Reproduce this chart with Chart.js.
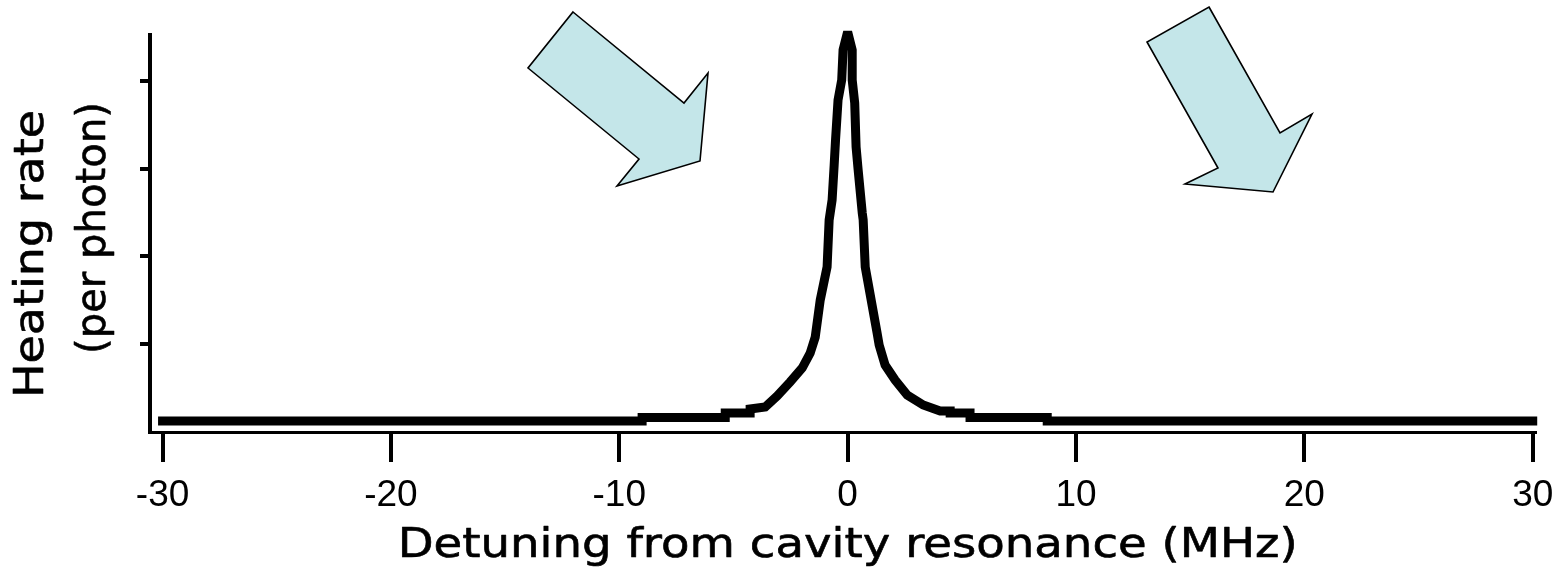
<!DOCTYPE html>
<html><head><meta charset="utf-8">
<script src="https://cdn.jsdelivr.net/npm/chart.js@4.4.1/dist/chart.umd.min.js"></script>
<style>html,body{margin:0;padding:0;background:#fff;overflow:hidden}#wrap{width:1557px;height:569px;position:relative}</style>
</head><body><div id="wrap"><canvas id="c" width="1557" height="569"></canvas></div>
<script>
// Detuning from cavity resonance (MHz)
const detuningMHz = [
  -30, -9.00, -9.00, -5.36, -5.36, -4.27, -4.27, -3.61, -3.09, -2.52, -1.99, -1.64, -1.42,
  -1.20, -0.90, -0.81, -0.68, -0.59, -0.53, -0.42, -0.26, -0.20, 0,
  0.20, 0.20, 0.31, 0.37, 0.46, 0.64, 0.68, 0.77, 1.03, 1.29, 1.38, 1.64, 2.08, 2.61,
  3.31, 4.05, 4.49, 4.49, 5.36, 5.36, 8.74, 8.74, 30
];
// Heating rate per photon (arbitrary units, y tick spacing = 1)
const heatingRate = [
  0.125, 0.125, 0.165, 0.165, 0.217, 0.217, 0.262, 0.285, 0.410, 0.570, 0.729, 0.900, 1.080,
  1.504, 1.880, 2.416, 2.644, 3.043, 3.328, 3.783, 4.011, 4.353, 4.560,
  4.353, 4.011, 3.749, 3.248, 2.986, 2.496, 2.416, 1.880, 1.504, 1.128, 0.991, 0.764, 0.593, 0.422,
  0.308, 0.239, 0.239, 0.217, 0.217, 0.165, 0.165, 0.125, 0.125
];
const xTickValues = [-30, -20, -10, 0, 10, 20, 30];
const yTickValues = [1, 2, 3, 4];
const xTitle = 'Detuning from cavity resonance (MHz)';
const yTitleLines = ['Heating rate', '(per photon)'];

const arrowPolys = [
  [[573,12],[684,103],[708,73],[700,161],[617,186],[639,159],[528,68]],
  [[1209,7],[1280,133],[1312,114],[1273,192],[1185,184],[1218,168],[1147,42]]
];

function drawStretched(ctx, text, cx, cy, targetW, rot) {
  ctx.save();
  ctx.translate(cx, cy);
  if (rot) ctx.rotate(rot);
  const w = ctx.measureText(text).width;
  ctx.scale(targetW / w, 1);
  ctx.fillText(text, 0, 0);
  ctx.strokeText(text, 0, 0);
  ctx.restore();
}

const decorPlugin = {
  id: 'decor',
  beforeDatasetsDraw(chart) { chart.ctx.miterLimit = 2; },
  afterDraw(chart) {
    const ctx = chart.ctx;
    const xs = chart.scales.x;
    ctx.save();
    arrowPolys.forEach(p => {
      ctx.beginPath();
      p.forEach((pt, i) => i ? ctx.lineTo(pt[0], pt[1]) : ctx.moveTo(pt[0], pt[1]));
      ctx.closePath();
      ctx.fillStyle = '#c4e6e9';
      ctx.fill();
      ctx.lineWidth = 1.6;
      ctx.strokeStyle = '#000';
      ctx.lineJoin = 'miter';
      ctx.miterLimit = 10;
      ctx.stroke();
    });
    ctx.fillStyle = '#000';
    ctx.strokeStyle = '#000';
    ctx.lineWidth = 0.6;
    ctx.lineJoin = 'round';
    ctx.font = '40px "DejaVu Sans"';
    ctx.textAlign = 'center';
    ctx.textBaseline = 'alphabetic';
    drawStretched(ctx, xTitle, xs.getPixelForValue(0), 557, 900, 0);
    ctx.textBaseline = 'middle';
    drawStretched(ctx, yTitleLines[0], 33, 254, 288, -Math.PI / 2);
    drawStretched(ctx, yTitleLines[1], 95, 228, 252, -Math.PI / 2);
    ctx.restore();
  }
};

new Chart(document.getElementById('c'), {
  type: 'line',
  data: {
    datasets: [{
      data: detuningMHz.map((x, i) => ({ x: x, y: heatingRate[i] })),
      borderColor: '#000',
      borderWidth: 9,
      pointRadius: 0,
      fill: false,
      tension: 0,
      clip: false,
      borderJoinStyle: 'miter',
      borderCapStyle: 'square'
    }]
  },
  options: {
    responsive: false,
    animation: false,
    devicePixelRatio: 1,
    layout: { padding: { left: 140, right: 22, top: 35, bottom: 37 } },
    plugins: { legend: { display: false }, tooltip: { enabled: false } },
    scales: {
      x: {
        type: 'linear', min: -30.55, max: 30.1,
        afterBuildTicks: s => { s.ticks = xTickValues.map(v => ({ value: v })); },
        afterFit: s => { s.paddingLeft = 0; s.paddingRight = 0; s.height = 100; },
        ticks: { color: '#000', font: { family: '"Liberation Sans", Arial', size: 37 }, padding: 12, maxRotation: 0, autoSkip: false },
        grid: { drawOnChartArea: false, drawTicks: true, tickLength: 30, color: '#000', lineWidth: 4 },
        border: { display: true, color: '#000', width: 3 }
      },
      y: {
        type: 'linear', min: 0, max: 4.524,
        afterBuildTicks: s => { s.ticks = yTickValues.map(v => ({ value: v })); },
        afterFit: s => { s.width = 10; },
        ticks: { display: false },
        grid: { drawOnChartArea: false, drawTicks: true, tickLength: 10, color: '#000', lineWidth: 4 },
        border: { display: true, color: '#000', width: 4 }
      }
    }
  },
  plugins: [decorPlugin]
});
</script>
</body></html>
